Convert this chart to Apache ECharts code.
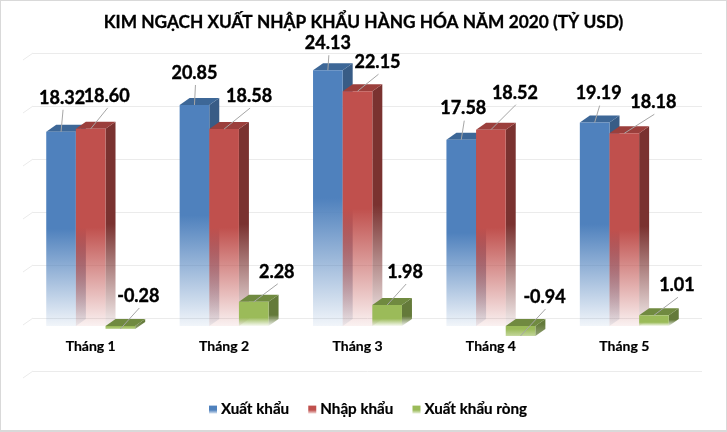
<!DOCTYPE html>
<html><head><meta charset="utf-8">
<style>html,body{margin:0;padding:0;background:#fff}#c{width:727px;height:432px}</style>
<script src="https://cdn.jsdelivr.net/npm/echarts@6/dist/echarts.min.js"></script>
</head><body><div id="c"></div>
<script>
const titleText = 'KIM NGẠCH XUẤT NHẬP KHẨU HÀNG HÓA NĂM 2020 (TỶ USD)';
const categories = ['Tháng 1', 'Tháng 2', 'Tháng 3', 'Tháng 4', 'Tháng 5'];
const exports_ = [18.32, 20.85, 24.13, 17.58, 19.19];
const imports_ = [18.60, 18.58, 22.15, 18.52, 18.18];
const netExports = [-0.28, 2.28, 1.98, -0.94, 1.01];
const yTicks = [-5, 0, 5, 10, 15, 20, 25];

// label placement relative to each bar's value point
const exportShift = [[1,-34],[0,-32],[0,-27],[2,-31],[4,-29]];
const importShift = [[16,-33],[25,-33],[20,-29],[24,-37],[29,-31]];
const netShift = [[18,-33],[23,-30],[18,-33],[24,-39],[23,-30]];

const FONT = 'Lato, "Noto Sans", sans-serif';
const DX = 10, DY = -7;

function fade(r, g, b, solidTo, endAlpha) {
  const c = a => `rgba(${r},${g},${b},${a})`;
  return new echarts.graphic.LinearGradient(0, 0, 0, 1, [
    {offset: 0, color: c(1)}, {offset: solidTo, color: c(1)}, {offset: 1, color: c(endAlpha)}
  ]);
}

function barSeries(name, values, shifts, pos, front, top, side, solidTo, endAlpha) {
  return {
    name, type: 'custom', xAxisIndex: 1, yAxisIndex: 1, z: 3 + pos,
    itemStyle: {color: fade(front[0], front[1], front[2], 0.55, 0.2)},
    data: values.map((v, i) => [i, v]),
    encode: {x: 0, y: 1},
    renderItem(params, api) {
      const i = api.value(0), v = api.value(1);
      const w = api.size([1, 0])[0] / 4.5;
      const c = api.coord([i, v]);
      const base = api.coord([i, 0]);
      const x = c[0] - 1.5 * w + pos * w;
      const yTop = Math.min(c[1], base[1]), yBot = Math.max(c[1], base[1]);
      const neg = v < 0;
      const fs = neg ? fade(front[0], front[1], front[2], 0.3, 0.6) : fade(front[0], front[1], front[2], solidTo, endAlpha);
      const ss = neg ? fade(side[0], side[1], side[2], 0.3, 0.7) : fade(side[0], side[1], side[2], solidTo, endAlpha);
      const ax = x + w / 2, ay = c[1];
      const sh = shifts[i];
      const lx = ax + sh[0], ly = ay + sh[1];
      return {type: 'group', children: [
        {type: 'polygon', shape: {points: [[x+w,yTop],[x+w+DX,yTop+DY],[x+w+DX,yBot+DY],[x+w,yBot]]}, style: {fill: ss}},
        {type: 'polygon', shape: {points: [[x,yTop],[x+DX,yTop+DY],[x+w+DX,yTop+DY],[x+w,yTop]]}, style: {fill: `rgb(${top.join(',')})`}},
        {type: 'rect', shape: {x, y: yTop, width: w, height: yBot - yTop}, style: {fill: fs}},
        {type: 'line', z2: 5, shape: {x1: lx + 1, y1: ly + 12, x2: ax, y2: ay}, style: {stroke: '#a6a6a6', lineWidth: 1}},
        {type: 'text', z2: 6, style: {text: v.toFixed(2), x: lx, y: ly, align: 'center', verticalAlign: 'middle', fill: '#000', stroke: '#000', lineWidth: 0.4, font: `bold 18px ${FONT}`}}
      ]};
    }
  };
}

const chart = echarts.init(document.getElementById('c'), null, {renderer: 'canvas'});
chart.setOption({
  animation: false,
  backgroundColor: '#fff',
  title: {text: titleText, left: 'center', top: 9, padding: 5,
    textStyle: {fontFamily: FONT, fontWeight: 'bold', fontSize: 17.3, color: '#000', textBorderColor: '#000', textBorderWidth: 0.3}},
  legend: {left: 209, top: 402, padding: 0, itemWidth: 8, itemHeight: 8, itemGap: 19, icon: 'rect',
    textStyle: {fontFamily: FONT, fontWeight: 'bold', fontSize: 15.2, color: '#000', padding: [0, 0, 0, -1], textBorderColor: '#000', textBorderWidth: 0.2},
    data: ['Xuất khẩu', 'Nhập khẩu', 'Xuất khẩu ròng']},
  grid: [
    {left: 33, right: 25, top: 53, height: 318},
    {left: 24, width: 667, top: 61, height: 318}
  ],
  xAxis: [
    {gridIndex: 0, type: 'value', min: 0, max: 1, show: false},
    {gridIndex: 1, type: 'category', data: categories,
      axisLine: {show: false}, axisTick: {show: false},
      axisLabel: {margin: -40, color: '#000', fontFamily: FONT, fontWeight: 'bold', fontSize: 14, textBorderColor: '#000', textBorderWidth: 0.2}}
  ],
  yAxis: [
    {gridIndex: 0, type: 'value', min: -5, max: 25, interval: 5,
      axisLine: {show: false}, axisTick: {show: false}, axisLabel: {show: false},
      splitLine: {show: true, lineStyle: {color: '#ebebeb', width: 1}}},
    {gridIndex: 1, type: 'value', min: -5, max: 25, interval: 5,
      axisLine: {show: false}, axisTick: {show: false}, axisLabel: {show: false}, splitLine: {show: false}}
  ],
  graphic: [{type: 'rect', silent: true, z: 100, shape: {x: 0, y: 0, width: 727, height: 431},
    style: {fill: 'none', stroke: '#d9d9d9', lineWidth: 2}}],
  series: [
    {type: 'custom', xAxisIndex: 0, yAxisIndex: 0, silent: true, z: 1,
      data: yTicks.map(t => [0, t]), encode: {x: 0, y: 1},
      renderItem(params, api) {
        const p = api.coord([0, api.value(1)]);
        return {type: 'line', shape: {x1: p[0], y1: p[1], x2: p[0] - DX, y2: p[1] - DY},
          style: {stroke: '#ebebeb', lineWidth: 1}};
      }},
    barSeries('Xuất khẩu', exports_, exportShift, 0, [79,129,189], [61,103,151], [56,92,134], 0.5, 0.08),
    barSeries('Nhập khẩu', imports_, importShift, 1, [192,80,77], [155,63,60], [122,50,48], 0.5, 0.08),
    barSeries('Xuất khẩu ròng', netExports, netShift, 2, [155,187,89], [112,138,64], [100,122,58], 0.65, 0.08)
  ]
});
</script></body></html>
